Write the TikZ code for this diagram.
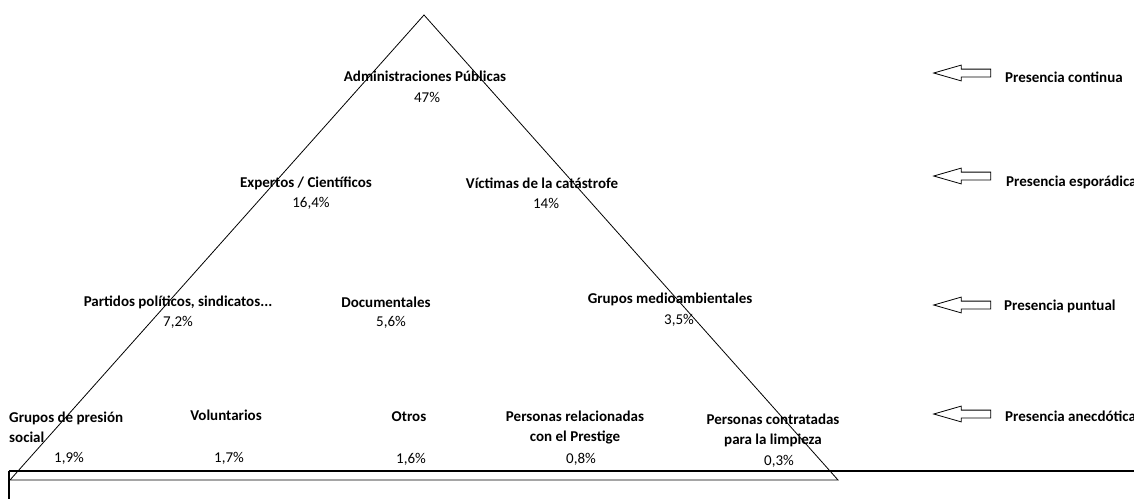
\documentclass[tikz,border=0pt]{standalone}
\usepackage{fontspec}
\setmainfont{Carlito}
\usetikzlibrary{shapes.arrows}

\begin{document}
\begin{tikzpicture}[
  x=1pt, y=-1pt,
  actor/.style={font=\bfseries\fontsize{15}{20}\selectfont, align=center, inner sep=0pt},
  pct/.style={font=\fontsize{15}{20}\selectfont, inner sep=0pt},
  presence/.style={font=\bfseries\fontsize{15}{20}\selectfont, anchor=west, inner sep=0pt},
  larrow/.style={draw, single arrow, shape border rotate=180, minimum height=57pt,
                 single arrow head extend=4pt, single arrow tip angle=32,
                 inner xsep=0pt, inner ysep=3.5pt, line width=0.8pt},
]
  \useasboundingbox (0,0) rectangle (1134,498);
  \clip (0,0) rectangle (1134,498);

  % pyramid and base box
  \coordinate (top) at (424,15);
  \coordinate (bl)  at (10,480);
  \coordinate (br)  at (838,480);
  \draw[line width=0.8pt] (bl) -- (top) -- (br) -- cycle;
  \draw[line width=1.8pt] (9,471) -- (1140,471);
  \draw[line width=1.2pt] (9,471) -- (9,505);

  % continuous presence
  \node[actor] (adm)   at (425,76)  {Administraciones Públicas};
  \node[pct]   (adm-p) at (427,97)  {47\%};

  % sporadic presence
  \node[actor] (expt)   at (306,183) {Expertos / Científicos};
  \node[pct]   (expt-p) at (311,203) {16,4\%};
  \node[actor] (vict)   at (542,183) {Víctimas de la catástrofe};
  \node[pct]   (vict-p) at (546,203) {14\%};

  % occasional presence
  \node[actor] (part)    at (178,302) {Partidos políticos, sindicatos...};
  \node[pct]   (part-p)  at (178,322) {7,2\%};
  \node[actor] (docu)    at (386,302) {Documentales};
  \node[pct]   (docu-p)  at (391,322) {5,6\%};
  \node[actor] (medio)   at (670,299) {Grupos medioambientales};
  \node[pct]   (medio-p) at (679,320) {3,5\%};

  % anecdotal presence
  \node[actor, align=left, anchor=west] (pres) at (9,427) {Grupos de presión\\social};
  \node[pct]   (pres-p)  at (69,458)  {1,9\%};
  \node[actor] (volun)   at (226,415) {Voluntarios};
  \node[pct]   (volun-p) at (229,458) {1,7\%};
  \node[actor] (otros)   at (409,417) {Otros};
  \node[pct]   (otros-p) at (411,459) {1,6\%};
  \node[actor] (prest)   at (575,428) {Personas relacionadas\\con el Prestige};
  \node[pct]   (prest-p) at (581,459) {0,8\%};
  \node[actor] (limp)    at (773,430) {Personas contratadas\\para la limpieza};
  \node[pct]   (limp-p)  at (779,461) {0,3\%};

  % legend
  \node[larrow] (a1) at (969,73)  {};
  \node[larrow] (a2) at (969,176) {};
  \node[larrow] (a3) at (969,305) {};
  \node[larrow] (a4) at (969,414) {};
  \node[presence] (l1) at (1005,77)  {Presencia continua};
  \node[presence] (l2) at (1006,182) {Presencia esporádica};
  \node[presence] (l3) at (1004,306) {Presencia puntual};
  \node[presence] (l4) at (1005,416) {Presencia anecdótica};
\end{tikzpicture}
\end{document}
